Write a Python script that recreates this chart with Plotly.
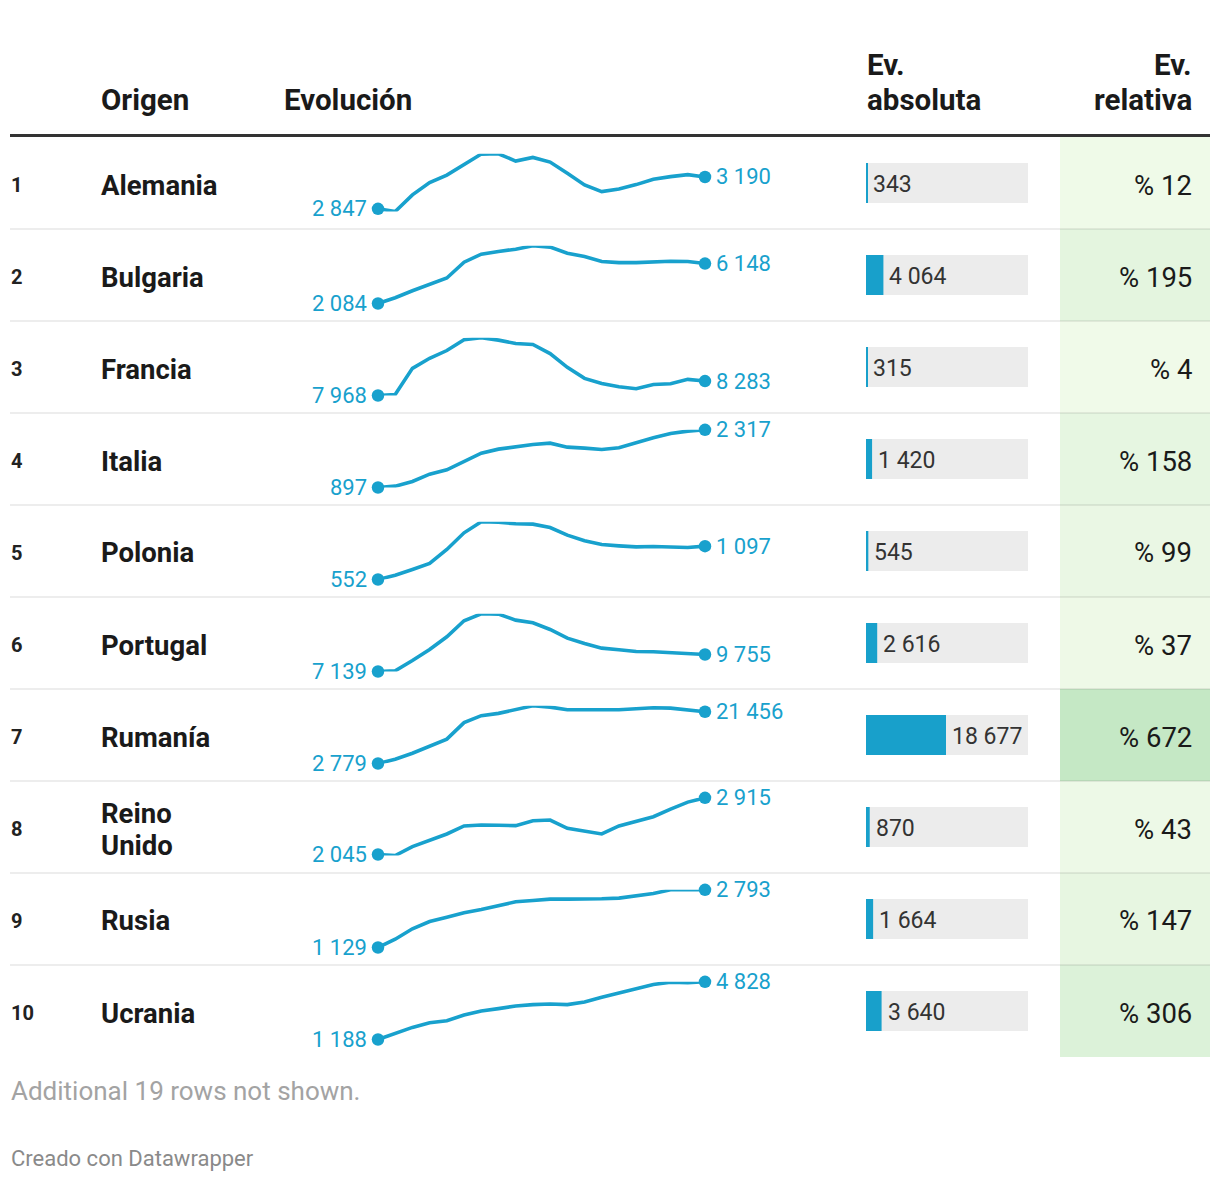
import plotly.graph_objects as go

W, H = 1220, 1182

# ---------------- data ----------------
ranks = [1, 2, 3, 4, 5, 6, 7, 8, 9, 10]
countries = ["Alemania", "Bulgaria", "Francia", "Italia", "Polonia",
             "Portugal", "Rumanía", "Reino<br>Unido", "Rusia", "Ucrania"]
periods = list(range(20))

alemania = [2847, 2818, 2997, 3129, 3211, 3329, 3437, 3440, 3362, 3401,
            3351, 3229, 3104, 3033, 3061, 3108, 3165, 3194, 3215, 3190]
bulgaria = [2084, 2665, 3382, 4065, 4680, 6284, 7104, 7377, 7616, 7958,
            7821, 7207, 6865, 6353, 6250, 6250, 6319, 6387, 6353, 6148]
francia = [7968, 7990, 8561, 8781, 8950, 9184, 9228, 9177, 9104, 9082,
           8884, 8583, 8342, 8232, 8158, 8115, 8210, 8224, 8320, 8283]
italia = [897, 930, 1045, 1225, 1332, 1537, 1742, 1841, 1898, 1956,
          1989, 1890, 1866, 1833, 1874, 2005, 2120, 2227, 2284, 2317]
polonia = [552, 623, 716, 814, 1043, 1315, 1495, 1489, 1462, 1457,
           1402, 1277, 1184, 1124, 1102, 1086, 1092, 1086, 1075, 1097]
portugal = [7139, 7242, 8832, 10524, 12473, 14935, 16012, 15961, 15037, 14627,
            13602, 12268, 11447, 10729, 10473, 10216, 10165, 10063, 9909, 9755]
rumania = [2779, 4326, 6467, 9084, 11582, 17530, 20028, 20861, 22169, 23597,
           23121, 22169, 22169, 22169, 22169, 22526, 22883, 22764, 22169, 21456]
reino_unido = [2045, 2030, 2167, 2269, 2360, 2483, 2498, 2493, 2488, 2564,
               2574, 2447, 2406, 2360, 2483, 2559, 2625, 2742, 2849, 2915]
rusia = [1129, 1369, 1668, 1879, 2004, 2129, 2225, 2331, 2447, 2485,
         2524, 2524, 2524, 2533, 2553, 2610, 2687, 2793, 2783, 2793]
ucrania = [1188, 1569, 1950, 2246, 2373, 2733, 2987, 3135, 3304, 3389,
           3431, 3389, 3558, 3854, 4129, 4404, 4658, 4806, 4764, 4828]

series = [alemania, bulgaria, francia, italia, polonia,
          portugal, rumania, reino_unido, rusia, ucrania]

abs_change = [343, 4064, 315, 1420, 545, 2616, 18677, 870, 1664, 3640]
rel_change = [12, 195, 4, 158, 99, 37, 672, 43, 147, 306]

headers = ["Origen", "Evolución", "Ev.<br>absoluta", "Ev.<br>relativa"]
note_text = "Additional 19 rows not shown."
credit_text = "Creado con Datawrapper"

# ---------------- layout helpers ----------------
TOP = 137
ROW_H = 92
N = len(countries)
BOTTOM = TOP + N * ROW_H
BLUE = "#18a1cd"
FONT = "Roboto"
INK = "#1a1a1a"


def fx(x):
    return x / W


def fy(y):
    return 1 - y / H


def fmt(v):
    return f"{v:,}".replace(",", " ")


def green(v, vmax):
    t = v / vmax
    lo = (240, 250, 233)
    hi = (197, 232, 197)
    c = [round(lo[k] + (hi[k] - lo[k]) * t) for k in range(3)]
    return "rgb(%d,%d,%d)" % tuple(c)


def text_lines(x, y_first, text, spacing, size, anchor, bold=True, color=INK):
    out = []
    for k, line in enumerate(text.split("<br>")):
        t = f"<b>{line}</b>" if bold else line
        out.append(dict(xref="paper", yref="paper", x=fx(x), y=fy(y_first + k * spacing),
                        text=t, showarrow=False, xanchor=anchor, yanchor="middle",
                        font=dict(family=FONT, size=size, color=color)))
    return out


fig = go.Figure()
shapes = []
annotations = []

# green background column
vmax = max(rel_change)
for i in range(N):
    y0 = TOP + i * ROW_H
    shapes.append(dict(type="rect", xref="paper", yref="paper",
                       x0=fx(1060), x1=fx(1210), y0=fy(y0 + ROW_H), y1=fy(y0),
                       fillcolor=green(rel_change[i], vmax), line=dict(width=0),
                       layer="below"))

# row separators
for i in range(N - 1):
    y = TOP + (i + 1) * ROW_H
    shapes.append(dict(type="line", xref="paper", yref="paper",
                       x0=fx(10), x1=fx(1210), y0=fy(y), y1=fy(y),
                       line=dict(color="rgba(0,0,0,0.07)", width=2)))

# header rule
shapes.append(dict(type="line", xref="paper", yref="paper",
                   x0=fx(10), x1=fx(1210), y0=fy(135.5), y1=fy(135.5),
                   line=dict(color="#333333", width=3)))

# sparklines: one y axis per row
layout_axes = {}
layout_axes["xaxis"] = dict(domain=[fx(378), fx(705)], range=[periods[0], periods[-1]],
                            visible=False, fixedrange=True)
for i, s in enumerate(series):
    n = i + 2
    y0 = TOP + i * ROW_H
    layout_axes[f"yaxis{n}"] = dict(domain=[fy(y0 + 74.5), fy(y0 + 16.8)],
                                    range=[min(s), max(s)], visible=False,
                                    fixedrange=True, anchor="x")
    fig.add_trace(go.Scatter(x=periods, y=s, mode="lines", xaxis="x", yaxis=f"y{n}",
                             line=dict(color=BLUE, width=3.6, shape="linear"),
                             cliponaxis=False, hoverinfo="skip", showlegend=False))
    fig.add_trace(go.Scatter(x=[periods[0], periods[-1]], y=[s[0], s[-1]], mode="markers",
                             xaxis="x", yaxis=f"y{n}",
                             marker=dict(color=BLUE, size=12.5), cliponaxis=False,
                             hoverinfo="skip", showlegend=False))
    annotations.append(dict(xref="x", yref=f"y{n}", x=periods[0], y=s[0], text=fmt(s[0]),
                            showarrow=False, xanchor="right", yanchor="middle", xshift=-9,
                            font=dict(family=FONT, size=22, color=BLUE)))
    annotations.append(dict(xref="x", yref=f"y{n}", x=periods[-1], y=s[-1], text=fmt(s[-1]),
                            showarrow=False, xanchor="left", yanchor="middle", xshift=9,
                            font=dict(family=FONT, size=22, color=BLUE)))

# bars for absolute change
BAR_MAX = max(abs_change) * 162 / 80
rows = list(range(N))
layout_axes["xaxis2"] = dict(domain=[fx(866), fx(1028)], range=[0, BAR_MAX],
                             visible=False, fixedrange=True, anchor="y12")
layout_axes["yaxis12"] = dict(domain=[fy(BOTTOM), fy(TOP)], range=[N - 0.5, -0.5],
                              visible=False, fixedrange=True, anchor="x2")
fig.add_trace(go.Bar(x=[BAR_MAX] * N, y=rows, orientation="h", xaxis="x2", yaxis="y12",
                     marker=dict(color="#ececec", line=dict(width=0)), width=40 / ROW_H,
                     hoverinfo="skip", showlegend=False))
fig.add_trace(go.Bar(x=abs_change, y=rows, orientation="h", xaxis="x2", yaxis="y12",
                     marker=dict(color="#18a0cb", line=dict(width=0)), width=40 / ROW_H,
                     hoverinfo="skip", showlegend=False))
for i, v in enumerate(abs_change):
    annotations.append(dict(xref="x2", yref="y12", x=v, y=i, text=fmt(v), showarrow=False,
                            xanchor="left", yanchor="middle", xshift=4, yshift=-1,
                            font=dict(family=FONT, size=23, color="#333333")))

# text columns
for i in range(N):
    yc = TOP + i * ROW_H + ROW_H / 2 + 2
    annotations += text_lines(9, yc, str(ranks[i]), 0, 20, "left", color="#222222")
    nlines = len(countries[i].split("<br>"))
    annotations += text_lines(99, yc - (nlines - 1) * 16, countries[i], 32, 27.5, "left")
    annotations += text_lines(1194, yc, f"% {rel_change[i]}", 0, 27.5, "right", bold=False)

# headers
annotations += text_lines(99, 100, headers[0], 35, 29.5, "left")
annotations += text_lines(282, 100, headers[1], 35, 29.5, "left")
annotations += text_lines(865, 65, headers[2], 35, 29.5, "left")
annotations += text_lines(1194, 65, headers[3], 35, 29.5, "right")

# footer
annotations.append(dict(xref="paper", yref="paper", x=fx(9), y=fy(1091), text=note_text,
                        showarrow=False, xanchor="left", yanchor="middle",
                        font=dict(family=FONT, size=26, color="#a3a3a3")))
annotations.append(dict(xref="paper", yref="paper", x=fx(9), y=fy(1158), text=credit_text,
                        showarrow=False, xanchor="left", yanchor="middle",
                        font=dict(family=FONT, size=22, color="#8a8a8a")))

fig.update_layout(width=W, height=H, margin=dict(l=0, r=0, t=0, b=0),
                  paper_bgcolor="white", plot_bgcolor="rgba(0,0,0,0)",
                  barmode="overlay", shapes=shapes, annotations=annotations,
                  font=dict(family=FONT), showlegend=False, **layout_axes)

fig.write_html("out.html", config={"displayModeBar": False},
               post_script="document.body.style.margin='0';document.body.style.padding='0';")
